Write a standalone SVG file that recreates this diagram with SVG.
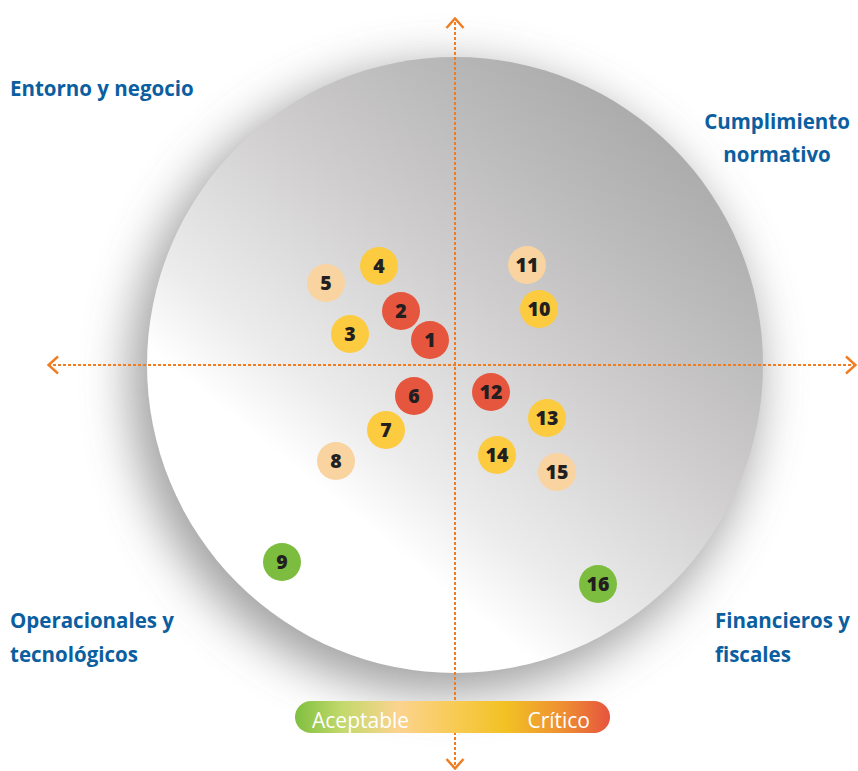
<svg xmlns="http://www.w3.org/2000/svg" width="858" height="771" viewBox="0 0 858 771">
<defs>
<linearGradient id="disc" x1="0.85" y1="0.1" x2="0.2" y2="0.9">
<stop offset="0" stop-color="#a9a9a9"/>
<stop offset="0.4" stop-color="#cfcdcd"/>
<stop offset="0.68" stop-color="#ececec"/>
<stop offset="0.8" stop-color="#ffffff"/>
</linearGradient>
<linearGradient id="legend" x1="0" y1="0" x2="1" y2="0">
<stop offset="0" stop-color="#7fbf3f"/>
<stop offset="0.15" stop-color="#c3d96c"/>
<stop offset="0.33" stop-color="#fcd38f"/>
<stop offset="0.5" stop-color="#f8cb56"/>
<stop offset="0.67" stop-color="#f2c124"/>
<stop offset="0.85" stop-color="#ee8f32"/>
<stop offset="1" stop-color="#e6543e"/>
</linearGradient>
<filter id="shadow" x="-30%" y="-30%" width="160%" height="160%">
<feGaussianBlur stdDeviation="24"/>
</filter>
<marker id="chev" viewBox="0 0 12 20" refX="11" refY="10" markerWidth="12" markerHeight="20" markerUnits="userSpaceOnUse" orient="auto">
<path d="M1,1.5 L10.5,10 L1,18.5" fill="none" stroke="#f07d22" stroke-width="2.5"/>
</marker>
<style>
.lbl{font-family:"Open Sans","Liberation Sans",sans-serif;font-weight:700;font-size:20.5px;fill:#0b5ea0}
.num{font-family:"Open Sans","Liberation Sans",sans-serif;font-weight:800;font-size:19.5px;fill:#231f20;text-anchor:middle}
.axis{fill:none;stroke:#f07d22;stroke-width:2;stroke-dasharray:2 3}
.red{fill:#e6563e}
.yel{fill:#fccb3f}
.pch{fill:#f9d4a0}
.grn{fill:#7cbd3f}
.leg{font-family:"Open Sans","Liberation Sans",sans-serif;font-size:21px;fill:#ffffff}
</style>
</defs>
<rect width="858" height="771" fill="#ffffff"/>
<g id="disc-group">
<circle cx="444" cy="380" r="314" fill="#8a8a8a" opacity="0.8" filter="url(#shadow)"/>
<circle cx="455" cy="365" r="308" fill="url(#disc)"/>
</g>
<g id="connectors">
<line class="axis" x1="455" y1="769" x2="455" y2="18" marker-end="url(#chev)"/>
<line class="axis" x1="455" y1="18" x2="455" y2="769" marker-end="url(#chev)"/>
<line class="axis" x1="856" y1="365" x2="48" y2="365" marker-end="url(#chev)"/>
<line class="axis" x1="48" y1="365" x2="856" y2="365" marker-end="url(#chev)"/>
</g>
<g id="label-entorno"><text class="lbl" x="10" y="96">Entorno y negocio</text></g>
<g id="label-cumplimiento"><text class="lbl" x="777" y="129" text-anchor="middle">Cumplimiento</text><text class="lbl" x="777" y="162" text-anchor="middle">normativo</text></g>
<g id="label-operacionales"><text class="lbl" x="10" y="628">Operacionales y</text><text class="lbl" x="10" y="662">tecnológicos</text></g>
<g id="label-financieros"><text class="lbl" x="715" y="628">Financieros y</text><text class="lbl" x="715" y="662">fiscales</text></g>
<g id="n1"><circle class="red" cx="430" cy="340" r="19"/><text class="num" x="430" y="347">1</text></g>
<g id="n2"><circle class="red" cx="401" cy="311" r="19"/><text class="num" x="401" y="318">2</text></g>
<g id="n3"><circle class="yel" cx="350" cy="334" r="19"/><text class="num" x="350" y="341">3</text></g>
<g id="n4"><circle class="yel" cx="379" cy="266" r="19"/><text class="num" x="379" y="273">4</text></g>
<g id="n5"><circle class="pch" cx="326" cy="283" r="19"/><text class="num" x="326" y="290">5</text></g>
<g id="n6"><circle class="red" cx="414" cy="396" r="19"/><text class="num" x="414" y="403">6</text></g>
<g id="n7"><circle class="yel" cx="386" cy="430" r="19"/><text class="num" x="386" y="437">7</text></g>
<g id="n8"><circle class="pch" cx="336" cy="461" r="19"/><text class="num" x="336" y="468">8</text></g>
<g id="n9"><circle class="grn" cx="282" cy="562" r="19"/><text class="num" x="282" y="569">9</text></g>
<g id="n10"><circle class="yel" cx="539" cy="309" r="19"/><text class="num" x="539" y="316">10</text></g>
<g id="n11"><circle class="pch" cx="527" cy="265" r="19"/><text class="num" x="527" y="272">11</text></g>
<g id="n12"><circle class="red" cx="491" cy="392" r="19"/><text class="num" x="491" y="399">12</text></g>
<g id="n13"><circle class="yel" cx="547" cy="418" r="19"/><text class="num" x="547" y="425">13</text></g>
<g id="n14"><circle class="yel" cx="497" cy="455" r="19"/><text class="num" x="497" y="462">14</text></g>
<g id="n15"><circle class="pch" cx="557" cy="472" r="19"/><text class="num" x="557" y="479">15</text></g>
<g id="n16"><circle class="grn" cx="598" cy="584" r="19"/><text class="num" x="598" y="591">16</text></g>
<g id="legend-bar">
<rect x="295" y="701" width="315" height="32" rx="16" ry="16" fill="url(#legend)"/>
<text class="leg" x="312" y="728">Aceptable</text>
<text class="leg" x="590" y="728" text-anchor="end">Crítico</text>
</g>
</svg>
